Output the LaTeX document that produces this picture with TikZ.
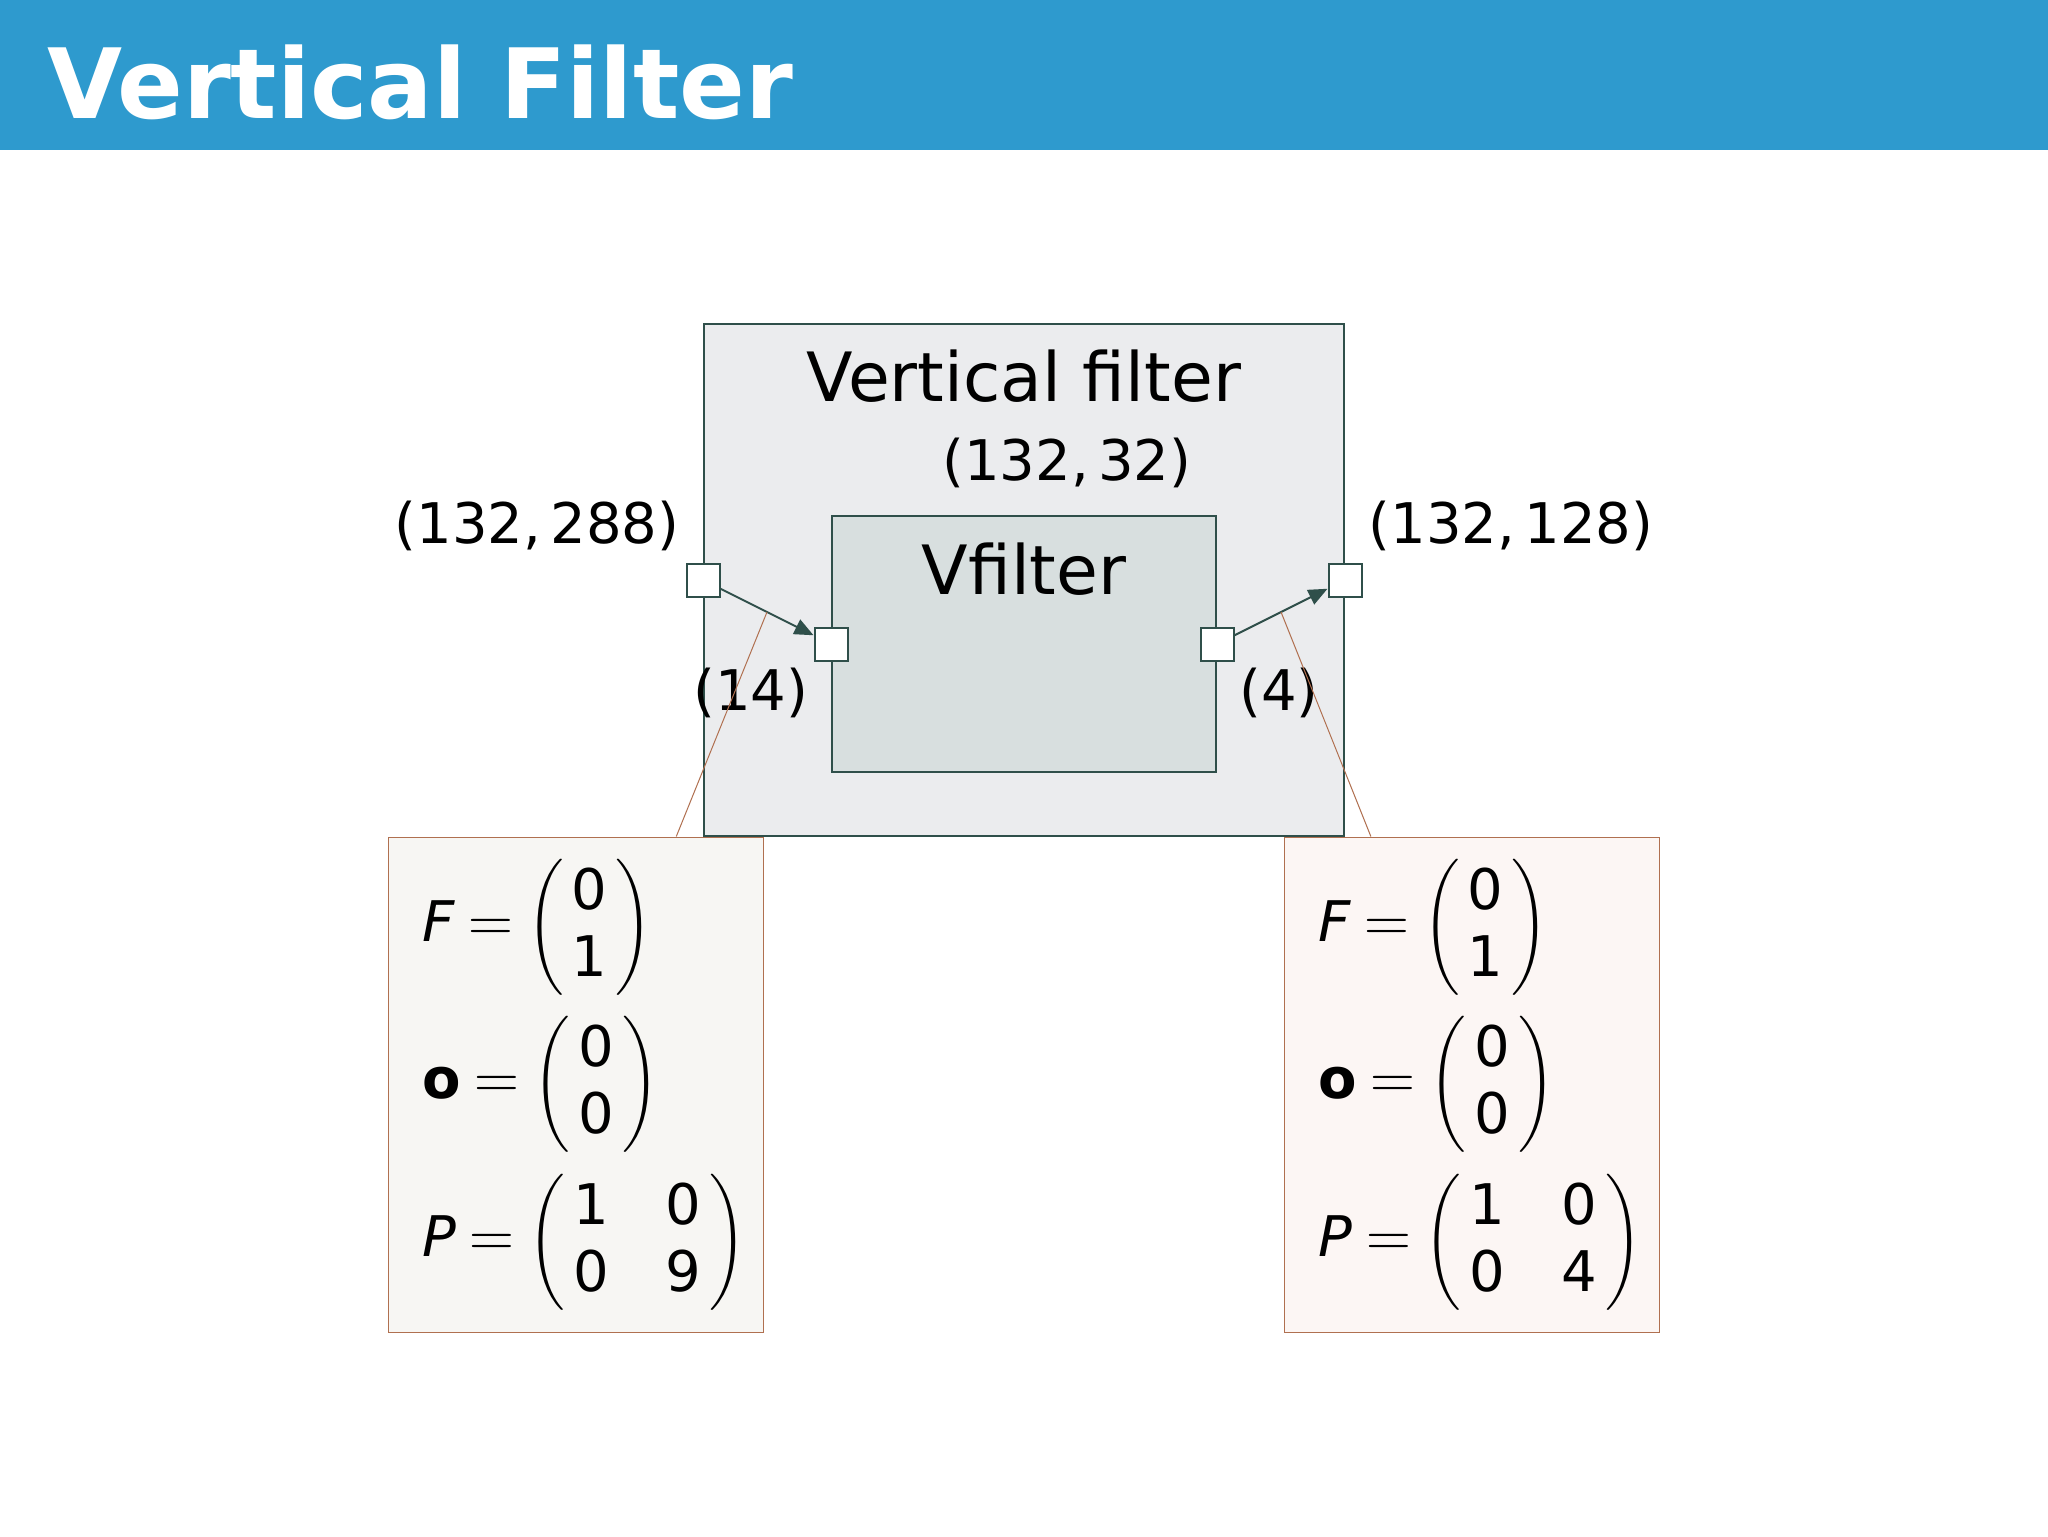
\documentclass[tikz,border=0pt]{standalone}
\usepackage{fontspec}
\setmainfont{DejaVu Sans}
\usepackage{amsmath}
\usepackage{graphicx}
\usetikzlibrary{arrows.meta,calc}
\definecolor{titlebar}{RGB}{46,154,206}
\definecolor{outerfill}{RGB}{235,236,238}
\definecolor{innerfill}{RGB}{216,223,223}
\definecolor{boxline}{RGB}{47,79,74}
\definecolor{brownline}{RGB}{176,112,80}
\definecolor{leftfill}{RGB}{247,246,243}
\definecolor{rightfill}{RGB}{252,246,244}
\tikzset{
  block/.style={draw=boxline, line width=1pt, inner sep=0pt},
  port/.style={draw=boxline, fill=white, line width=1pt, minimum width=16.5pt, minimum height=16.5pt, inner sep=0pt},
  conn/.style={draw=boxline, line width=1pt, -{Triangle[length=9.5pt,width=8pt]}},
  formbox/.style={draw=brownline, line width=0.5pt, minimum width=187.5pt, minimum height=247.5pt, inner sep=0pt},
  callout/.style={draw=brownline, line width=0.5pt},
  lbl/.style={anchor=base, inner sep=0pt, font=\fontsize{28}{33.6}\selectfont},
  big/.style={anchor=base, inner sep=0pt, font=\fontsize{34}{40.8}\selectfont},
  eq/.style={anchor=west, inner sep=0pt, font=\fontsize{28}{33.6}\selectfont}
}
\newcommand{\myeq}{\mathrel{\scalebox{1.25}{$=$}}}
\newcommand{\mylp}{\mathopen{\scalebox{1}[1.14]{$\biggl($}}}
\newcommand{\myrp}{\mathclose{\scalebox{1}[1.14]{$\biggr)$}}}
\newcommand{\colv}[2]{\mylp\begin{array}{@{\,}c@{\,}}\mbox{#1}\\\mbox{#2}\end{array}\myrp}
\newcommand{\matt}[4]{\mylp\begin{array}{@{\,}c@{\hspace{28pt}}c@{\,}}\mbox{#1}&\mbox{#2}\\\mbox{#3}&\mbox{#4}\end{array}\myrp}
\begin{document}
\begin{tikzpicture}[x=0.5pt,y=-0.5pt]
\useasboundingbox (0,0) rectangle (2048,1536);
\fill[white] (0,0) rectangle (2048,1536);
\fill[titlebar] (0,0) rectangle (2048,150);
\node[anchor=base west, inner sep=0pt, text=white, font=\fontsize{48.5}{58}\selectfont\bfseries] (title) at (47,119) {Vertical Filter};

% blocks
\node[block, fill=outerfill, minimum width=320pt, minimum height=256pt] (outer) at (1024,580) {};
\node[block, fill=innerfill, minimum width=192pt, minimum height=128pt] (inner) at (1024,644) {};

% formula boxes
\node[formbox, fill=leftfill] (fl) at (575.5,1084.5) {};
\node[formbox, fill=rightfill] (fr) at (1472,1084.5) {};

% labels
\node[big] (tOuter) at (1024,401) {Vertical filter};
\node[big] (tInner) at (1024,594) {Vfilter};
\node[lbl] (sOuter) at (1067,480) {(132,\,32)};
\node[lbl] (sIn) at (537,543) {(132,\,288)};
\node[lbl] (sOut) at (1511,543) {(132,\,128)};
\node[lbl] (kIn) at (751,710) {(14)};
\node[lbl] (kOut) at (1279,710) {(4)};

% ports
\node[port] (pL) at (outer.west) {};
\node[port] (pR) at (outer.east) {};
\node[port] (piL) at (inner.west) {};
\node[port] (piR) at (inner.east) {};

% connections
\draw[conn] (pL) -- (piL) coordinate[midway] (mL);
\draw[conn] (piR) -- (pR) coordinate[midway] (mR);

% callout lines
\draw[callout] (mL) -- ($(fl.north west)!0.768!(fl.north east)$);
\draw[callout] (mR) -- ($(fr.north west)!0.231!(fr.north east)$);

% formulas left
\node[eq] (fl1) at (422,928) {$\mbox{\itshape F} \myeq \colv{0}{1}$};
\node[eq] (fl2) at (422,1085) {$\mbox{\bfseries o} \myeq \colv{0}{0}$};
\node[eq] (fl3) at (422,1243) {$\mbox{\itshape P} \myeq \matt{1}{0}{0}{9}$};
% formulas right
\node[eq] (fr1) at (1318,928) {$\mbox{\itshape F} \myeq \colv{0}{1}$};
\node[eq] (fr2) at (1318,1085) {$\mbox{\bfseries o} \myeq \colv{0}{0}$};
\node[eq] (fr3) at (1318,1243) {$\mbox{\itshape P} \myeq \matt{1}{0}{0}{4}$};
\end{tikzpicture}
\end{document}
